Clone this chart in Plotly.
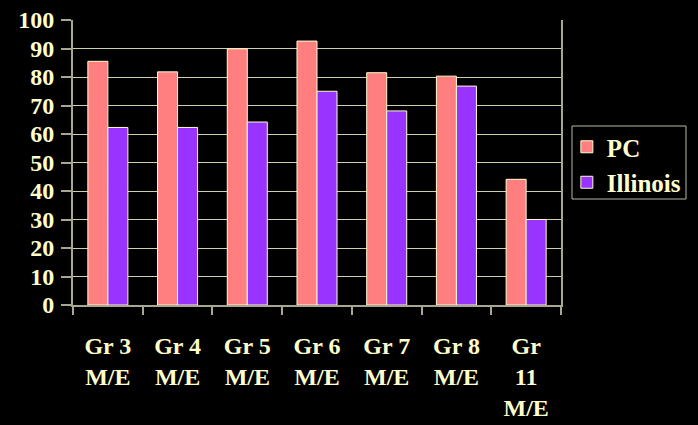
import plotly.graph_objects as go

grades = ["Gr 3<br>M/E", "Gr 4<br>M/E", "Gr 5<br>M/E", "Gr 6<br>M/E",
          "Gr 7<br>M/E", "Gr 8<br>M/E", "Gr<br>11<br>M/E"]
pc = [85.5, 81.8, 89.9, 92.6, 81.5, 80.3, 44.1]
illinois = [62.3, 62.3, 64.2, 75.0, 68.1, 76.8, 30.0]

CREAM = "#FFFFCC"
FONT = "Liberation Serif"

fig = go.Figure()
fig.add_trace(go.Bar(x=grades, y=pc, name="PC",
                     marker=dict(color="#FF7F80", line=dict(color=CREAM, width=1))))
fig.add_trace(go.Bar(x=grades, y=illinois, name="Illinois",
                     marker=dict(color="#9933FF", line=dict(color=CREAM, width=1))))

bold = dict(family=FONT, color=CREAM, size=24, weight="bold")

fig.update_layout(
    width=698, height=425,
    margin=dict(l=73, r=137, t=20, b=120, autoexpand=False),
    paper_bgcolor="black", plot_bgcolor="black",
    font=bold,
    barmode="group", bargap=0.426, bargroupgap=0,
    legend=dict(x=1.012, y=0.635, xanchor="left", yanchor="top",
                borderwidth=0, bgcolor="rgba(0,0,0,0)",
                font=dict(bold, size=25)),
)
# legend frame
fig.add_shape(type="rect", xref="paper", yref="paper",
              x0=(572 - 73) / 488, x1=(686 - 73) / 488,
              y0=(305 - 199) / 285, y1=(305 - 126) / 285,
              line=dict(color="#B8B8A0", width=1), layer="below")
fig.update_xaxes(showline=True, linecolor="#A8A890", linewidth=2,
                 ticks="outside", tickson="boundaries", ticklen=8,
                 tickcolor="#A8A890", tickwidth=2, ticklabelstandoff=18,
                 automargin=False, tickfont=bold)
fig.update_yaxes(range=[0, 100], dtick=10, showline=True, mirror=True,
                 linecolor="#A8A890", linewidth=2,
                 ticks="outside", ticklen=10, tickcolor="#A8A890", tickwidth=2,
                 showgrid=True, gridcolor="#CFCFA8", gridwidth=1,
                 zeroline=False, ticklabelstandoff=2, automargin=False,
                 tickfont=bold)

fig.write_html("out.html", config={"displayModeBar": False},
               post_script="document.body.style.margin='0';document.body.style.background='black';")
